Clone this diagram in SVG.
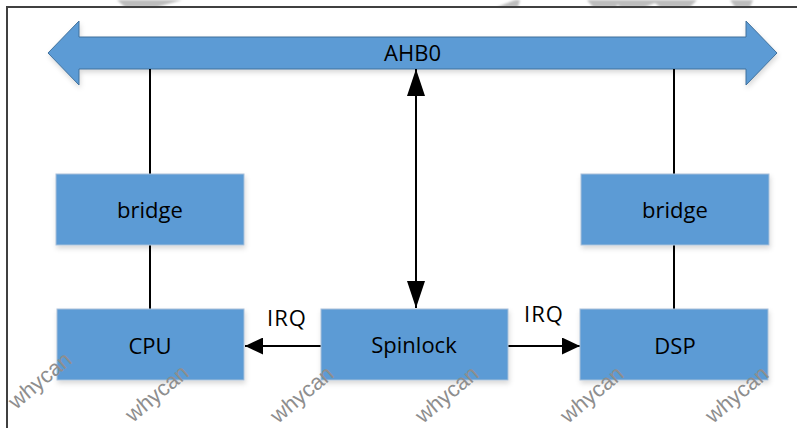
<svg xmlns="http://www.w3.org/2000/svg" width="797" height="428" viewBox="0 0 797 428">
  <style>
    .box { fill: #5b9bd5; stroke: #a9c0d9; stroke-width: 1; filter: url(#shadow); }
    .lbl { font-family: "Open Sans", "Liberation Sans", sans-serif; font-size: 22px; fill: #000; text-anchor: middle; }
    .irq { font-family: "Open Sans", "Liberation Sans", sans-serif; font-size: 22px; fill: #000; letter-spacing: 1px; }
    .wire { stroke: #000; stroke-width: 2; fill: none; }
    .wm { font-family: "Liberation Sans", "DejaVu Sans", sans-serif; font-size: 22px; fill: #8e8e8e; }
  </style>
  <defs>
    <filter id="shadow" x="-10%" y="-20%" width="130%" height="150%">
      <feDropShadow dx="1" dy="3" stdDeviation="2.5" flood-color="#000" flood-opacity="0.15"/>
    </filter>
    <filter id="blur" x="-20%" y="-50%" width="140%" height="200%">
      <feGaussianBlur stdDeviation="1.2"/>
    </filter>
    <marker id="headV" markerUnits="userSpaceOnUse" markerWidth="27" markerHeight="18" refX="27" refY="9" orient="auto-start-reverse" viewBox="0 0 27 18">
      <path d="M0,0 L27,9 L0,18 z" fill="#000"/>
    </marker>
    <marker id="headH" markerUnits="userSpaceOnUse" markerWidth="18" markerHeight="17" refX="18" refY="8.5" orient="auto" viewBox="0 0 18 17">
      <path d="M0,0 L18,8.5 L0,17 z" fill="#000"/>
    </marker>
  </defs>

  <rect x="0" y="0" width="797" height="428" fill="#ffffff"/>

  <!-- faded background marks at the top -->
  <g fill="#bdbdbd" filter="url(#blur)">
    <polygon points="117,0 182,0 157,7 125,7"/>
    <polygon points="497,7 515,0 520,0 518,7"/>
    <polygon points="587,0 617,0 617,7 593,7"/>
    <polygon points="613,0 697,0 690,7 660,7 655,3 645,7 620,7"/>
    <polygon points="730,0 753,0 750,7 735,7"/>
  </g>

  <!-- frame -->
  <g id="frame" stroke="#404040" stroke-width="2" fill="none">
    <line x1="6" y1="7" x2="797" y2="7"/>
    <line x1="7" y1="7" x2="7" y2="428"/>
  </g>

  <!-- bus -->
  <g id="ahb0">
    <polygon points="48,53 79,21 79,37 746,37 746,21 777,53 746,85 746,69 79,69 79,85" fill="#5b9bd5" stroke="#41719c" stroke-width="1" filter="url(#shadow)"/>
    <text class="lbl" x="412.5" y="61">AHB0</text>
  </g>

  <!-- connectors -->
  <g id="connectors">
    <line class="wire" x1="150" y1="69" x2="150" y2="174"/>
    <line class="wire" x1="150" y1="245" x2="150" y2="309"/>
    <line class="wire" x1="674" y1="69" x2="674" y2="174"/>
    <line class="wire" x1="674" y1="245" x2="674" y2="309"/>
    <line class="wire" x1="416" y1="69" x2="416" y2="308" marker-start="url(#headV)" marker-end="url(#headV)"/>
    <line class="wire" x1="321" y1="346" x2="245" y2="346" marker-end="url(#headH)"/>
    <line class="wire" x1="508" y1="346" x2="580" y2="346" marker-end="url(#headH)"/>
  </g>

  <g id="bridge-left">
    <rect class="box" x="56" y="174" width="188" height="71"/>
    <text class="lbl" x="150" y="218">bridge</text>
  </g>
  <g id="bridge-right">
    <rect class="box" x="581" y="174" width="188" height="71"/>
    <text class="lbl" x="675" y="218">bridge</text>
  </g>
  <g id="cpu">
    <rect class="box" x="57" y="309" width="187" height="71"/>
    <text class="lbl" x="150" y="354">CPU</text>
  </g>
  <g id="spinlock">
    <rect class="box" x="321" y="309" width="187" height="71"/>
    <text class="lbl" x="414" y="353">Spinlock</text>
  </g>
  <g id="dsp">
    <rect class="box" x="580" y="309" width="188" height="71"/>
    <text class="lbl" x="675" y="354">DSP</text>
  </g>

  <g id="irq-labels">
    <text class="irq" x="267" y="326">IRQ</text>
    <text class="irq" x="524" y="322">IRQ</text>
  </g>

  <!-- watermarks -->
  <g id="watermarks">
    <text class="wm" transform="translate(16,410) rotate(-40)">whycan</text>
    <text class="wm" transform="translate(133,423) rotate(-40)">whycan</text>
    <text class="wm" transform="translate(278,424) rotate(-40)">whycan</text>
    <text class="wm" transform="translate(423,424) rotate(-40)">whycan</text>
    <text class="wm" transform="translate(568,424) rotate(-40)">whycan</text>
    <text class="wm" transform="translate(713,424) rotate(-40)">whycan</text>
  </g>
</svg>
